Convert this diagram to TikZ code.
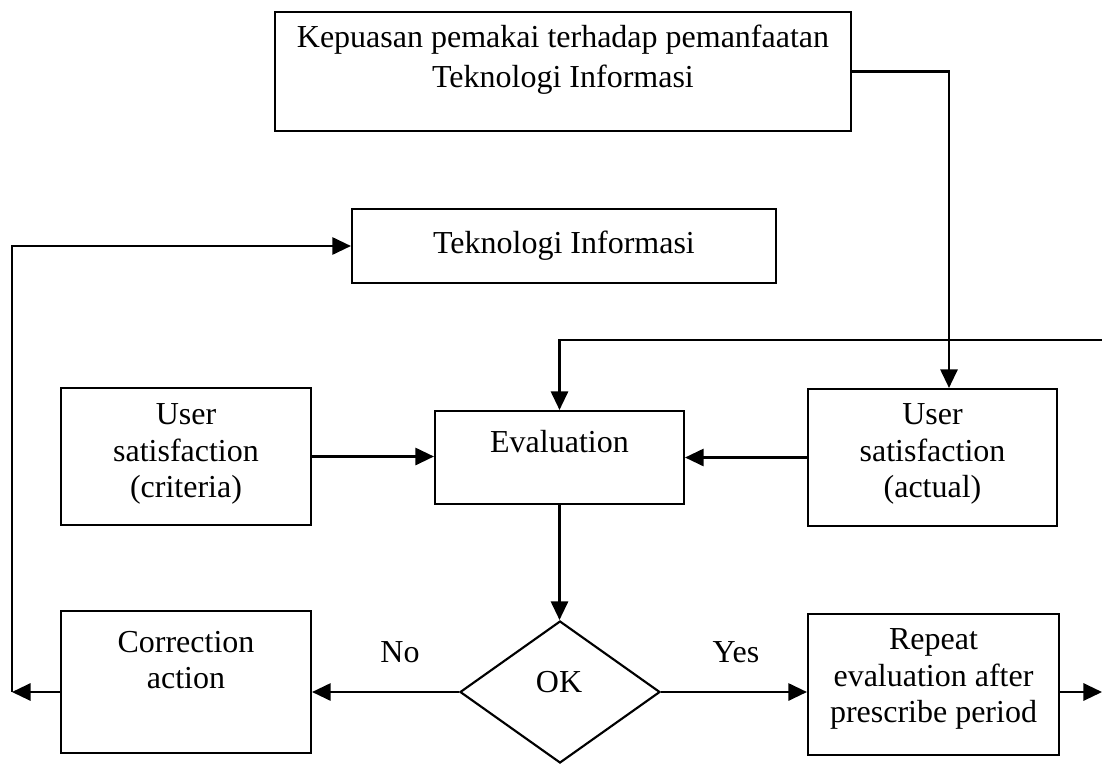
\documentclass[tikz,border=0pt]{standalone}
\usepackage{fontspec}
\setmainfont{Liberation Serif}
\usetikzlibrary{positioning}
\usetikzlibrary{shapes.geometric, arrows.meta}

\tikzset{
  blockbox/.style={draw, line width=1.6pt, inner sep=0pt},
  txtnode/.style={inner sep=0.75pt, align=center, font=\fontsize{24}{27.5}\selectfont},
  flowarrow/.style={line width=1.6pt, -{Triangle[length=14pt,width=13pt]}},
}

\begin{document}
\begin{tikzpicture}[x=0.75pt,y=0.75pt,yscale=-1,xscale=1]
            \useasboundingbox (0,0) rectangle (1102,764);

            %Shape: Rectangle [top]
            \node [blockbox, minimum width=432pt, minimum height=89.25pt] (topbox) at (563,71.5) {};
            %Shape: Rectangle [teknologi]
            \node [blockbox, minimum width=318pt, minimum height=55.5pt] (tek) at (564,246) {};
            %Shape: Rectangle [criteria]
            \node [blockbox, minimum width=187.5pt, minimum height=102.75pt] (crit) at (186,456.5) {};
            %Shape: Rectangle [evaluation]
            \node [blockbox, minimum width=186.75pt, minimum height=69.75pt] (eval) at (559.5,457.5) {};
            %Shape: Rectangle [actual]
            \node [blockbox, minimum width=186.75pt, minimum height=102.75pt] (act) at (932.5,457.5) {};
            %Shape: Rectangle [correction]
            \node [blockbox, minimum width=187.5pt, minimum height=106.5pt] (corr) at (186,682) {};
            %Shape: Rectangle [repeat]
            \node [blockbox, minimum width=188.25pt, minimum height=105.75pt] (rep) at (933.5,684.5) {};
            %Shape: Diamond
            \node [blockbox, diamond, minimum width=150pt, minimum height=106.5pt] (dia) at (560,692) {};

            %Free ends
            \coordinate (turn) at (949,0);
            \coordinate (fbin) at (1102,340);
            \coordinate (loopend) at (12,692);
            \coordinate (repout) at (1102,692);

            %Straight Lines
            \draw [flowarrow] (topbox.east) -| (turn |- act.north);
            \draw [flowarrow] (fbin) -| (eval.north);
            \draw [flowarrow] (crit.east) -- (crit.east -| eval.west);
            \draw [flowarrow] (act.west) -- (act.west -| eval.east);
            \draw [flowarrow] (eval.south) -- (eval.south |- dia.north);
            \draw [flowarrow] (dia.west) -- (dia.west -| corr.east);
            \draw [flowarrow] (dia.east) -- (dia.east -| rep.west);
            \draw [flowarrow] (corr.west |- dia.west) -- (loopend);
            \draw [flowarrow] (loopend) |- (tek.west);
            \draw [flowarrow] (rep.east |- dia.east) -- (repout);

            % Text Node
            \node [txtnode, font=\fontsize{24}{30}\selectfont] (toptxt) at (563,60) {Kepuasan pemakai terhadap pemanfaatan\\Teknologi Informasi};
            % Text Node
            \node [txtnode] (tektxt) at (564,246) {Teknologi Informasi};
            % Text Node
            \node [txtnode] (crittxt) at (186,454) {User\\satisfaction\\(criteria)};
            % Text Node
            \node [txtnode] (evaltxt) at (559.5,442) {Evaluation};
            % Text Node
            \node [txtnode] (acttxt) at (932.5,454) {User\\satisfaction\\(actual)};
            % Text Node
            \node [txtnode] (corrtxt) at (186,660) {Correction\\action};
            % Text Node
            \node [txtnode] (oktxt) at (559,682) {OK};
            % Text Node
            \node [txtnode] (reptxt) at (933.5,679) {Repeat\\evaluation after\\prescribe period};
            % Text Node
            \node [txtnode] (notxt) at (400,652) {No};
            % Text Node
            \node [txtnode] (yestxt) at (736,652) {Yes};

\end{tikzpicture}
\end{document}
